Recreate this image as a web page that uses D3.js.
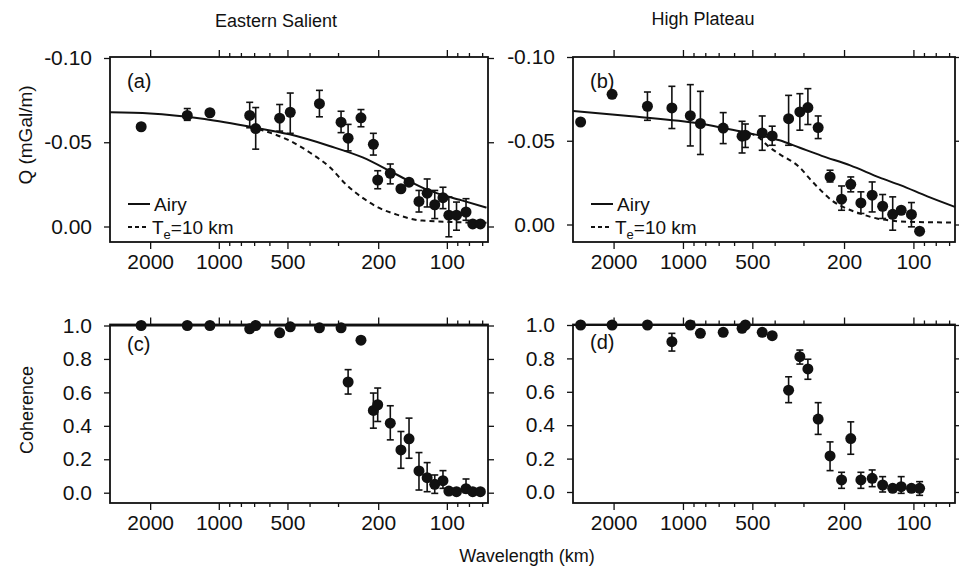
<!DOCTYPE html>
<html>
<head>
<meta charset="utf-8">
<script src="https://cdn.jsdelivr.net/npm/d3@7"></script>
<style>
  body { margin: 0; background: #fff; }
  svg { display: block; }
  text { font-family: "Liberation Sans", Arial, Helvetica, sans-serif; fill: #111; }
</style>
</head>
<body>
<div id="chart"></div>
<script>
// wavelengths (km) of the estimates, one list per region
var wlES = [2190, 1375, 1094, 732, 689, 541, 486, 362, 291, 271, 238, 210, 201, 177, 159, 146.5, 132.5, 122, 113, 104, 98, 90.7, 82.4, 77, 71.3],
    wlHP = [2780, 2030, 1426, 1117, 929, 840, 669, 554, 536, 453, 410, 348, 311, 287, 259, 230, 205, 187, 169, 151, 136, 123, 113, 102, 94];

// admittance Q (mGal/m) with error bars [lo, hi] (null = no bar)
var qES = [-0.0592, -0.0659, -0.0675, -0.0659, -0.0581, -0.0643, -0.0678, -0.0729, -0.0619, -0.0524, -0.0645, -0.0488, -0.0276,
           -0.0316, -0.0224, -0.0263, -0.0149, -0.0198, -0.0129, -0.0171, -0.0067, -0.0067, -0.0086, -0.0015, -0.0015];
var qESErr = [null, [-0.0700, -0.0630], null, [-0.0737, -0.0586], [-0.0706, -0.0459], [-0.0724, -0.0566], [-0.0792, -0.0553],
              [-0.0808, -0.0651], [-0.0684, -0.0557], [-0.0606, -0.0449], [-0.0694, -0.0592], [-0.0553, -0.0424], [-0.0331, -0.0224],
              [-0.0371, -0.0253], null, null, [-0.0214, -0.0086], [-0.0282, -0.0116], [-0.0214, -0.0047], [-0.0233, -0.0106],
              [-0.0175, 0.0061], [-0.0145, 0.0022], [-0.0165, -0.0037], null, null];

var qHP = [-0.0612, -0.0777, -0.0706, -0.0696, -0.0650, -0.0603, -0.0576, -0.0527, -0.0533, -0.0547, -0.0529, -0.0632, -0.0672,
           -0.0698, -0.0579, -0.0284, -0.0151, -0.0240, -0.0129, -0.0175, -0.0109, -0.0061, -0.0085, -0.0060, 0.0040];
var qHPErr = [null, null, [-0.0791, -0.0622], [-0.0825, -0.0573], [-0.0835, -0.0469], [-0.0795, -0.0418], [-0.0668, -0.0483],
              [-0.0616, -0.0427], [-0.0600, -0.0460], [-0.0648, -0.0443], [-0.0587, -0.0473], [-0.0771, -0.0473], [-0.0781, -0.0563],
              [-0.0811, -0.0597], [-0.0648, -0.0513], [-0.0324, -0.0254], [-0.0230, -0.0085], [-0.0284, -0.0195], [-0.0195, -0.0066],
              [-0.0254, -0.0075], [-0.0179, -0.0036], [-0.0165, 0.0034], null, [-0.0131, 0.0014], null];

// coherence
var cohES = [1.0, 1.0, 1.0, 0.98, 1.0, 0.956, 0.992, 0.986, 0.986, 0.662, 0.912, 0.492, 0.526, 0.416, 0.256, 0.322, 0.13,
             0.09, 0.05, 0.072, 0.01, 0.006, 0.024, 0.006, 0.006];
var cohESErr = [null, null, null, null, null, null, null, null, null, [0.59, 0.736], null, [0.386, 0.596], [0.426, 0.626],
                [0.316, 0.52], [0.146, 0.366], [0.206, 0.446], [0.016, 0.24], [0.006, 0.18], [-0.004, 0.106], [0.026, 0.132],
                null, null, [0.0, 0.082], null, null];

var cohHP = [1.0, 1.0, 1.0, 0.90, 1.0, 0.95, 0.956, 0.98, 1.0, 0.956, 0.936, 0.61, 0.81, 0.737, 0.437, 0.216, 0.072, 0.32,
             0.072, 0.082, 0.042, 0.022, 0.032, 0.022, 0.022];
var cohHPErr = [null, null, null, [0.844, 0.95], null, null, null, null, null, null, null, [0.535, 0.69], [0.766, 0.85],
                [0.675, 0.795], [0.345, 0.535], [0.128, 0.30], [0.022, 0.118], [0.226, 0.42], [0.022, 0.118], [0.032, 0.132],
                [0.0, 0.092], null, [-0.008, 0.092], null, [-0.02, 0.062]];

// model curves [wavelength, value]
var airyES = [[3000, -0.0678], [2000, -0.0671], [1200, -0.0641], [730, -0.0592], [490, -0.0547], [327, -0.0478],
              [234, -0.041], [167, -0.031], [120, -0.0214], [86, -0.0155], [67, -0.0112]];
var te10ES = [[730, -0.0592], [640, -0.057], [490, -0.051], [390, -0.043], [325, -0.035], [277, -0.025], [234, -0.017],
              [198, -0.011], [167, -0.0072], [128, -0.0035], [67, -0.0022]];
var airyHP = [[3000, -0.0678], [1670, -0.0646], [850, -0.0603], [540, -0.055], [434, -0.0523], [381, -0.0503],
              [311, -0.0458], [250, -0.041], [188, -0.0353], [140, -0.028], [114, -0.0235], [87, -0.0168], [66, -0.0105]];
var te10HP = [[560, -0.0555], [470, -0.052], [420, -0.046], [381, -0.042], [311, -0.034], [282, -0.0274], [255, -0.021],
              [224, -0.014], [202, -0.0105], [170, -0.0065], [144, -0.0036], [103, -0.0016], [66, -0.0012]];
var cohModel = [[3000, 1], [66, 1]];

// axes
var wlDomain = [3000, 66],
    wlTicks = [2000, 1000, 500, 200, 100],
    wlMinor = [900, 800, 700, 600, 400, 300, 90, 80, 70],
    qTicks = [-0.10, -0.05, 0.00],
    cohTicks = [0, 0.2, 0.4, 0.6, 0.8, 1.0];

var width = 959,
    height = 575,
    font = '"Liberation Sans", Arial, Helvetica, sans-serif';

var svg = d3.select("#chart").append("svg")
    .attr("width", width)
    .attr("height", height);

function zip(wl, vals, errs) {
    return wl.map(function (w, i) {
        return { wl: w, v: vals[i], err: errs[i] };
    });
}

function drawPanel(p) {
    var x = d3.scaleLog().domain(wlDomain).range([p.left, p.right]),
        y = d3.scaleLinear().domain(p.yDomain).range(p.yRange);

    var g = svg.append("g");

    // ticks, all pointing outward
    function styleAxis(sel) {
        sel.select(".domain").remove();
        sel.selectAll("line").attr("stroke", "#111").attr("stroke-width", 1.3);
        sel.selectAll("text").attr("font-family", font).attr("font-size", 21).attr("fill", "#111");
    }

    g.append("g").attr("transform", "translate(0," + p.bottom + ")")
        .call(d3.axisBottom(x).tickValues(wlTicks).tickSize(7).tickPadding(5).tickFormat(d3.format("d")))
        .call(styleAxis);
    g.append("g").attr("transform", "translate(0," + p.bottom + ")")
        .call(d3.axisBottom(x).tickValues(wlMinor).tickSize(4).tickFormat(""))
        .call(styleAxis);
    g.append("g").attr("transform", "translate(0," + p.top + ")")
        .call(d3.axisTop(x).tickValues(wlTicks).tickSize(7).tickFormat(""))
        .call(styleAxis);
    g.append("g").attr("transform", "translate(0," + p.top + ")")
        .call(d3.axisTop(x).tickValues(wlMinor).tickSize(4).tickFormat(""))
        .call(styleAxis);

    g.append("g").attr("transform", "translate(" + p.left + ",0)")
        .call(d3.axisLeft(y).tickValues(p.yTicks).tickSize(6).tickPadding(12).tickFormat(p.fmt))
        .call(styleAxis);
    g.append("g").attr("transform", "translate(" + p.right + ",0)")
        .call(d3.axisRight(y).tickValues(p.yTicks).tickSize(6).tickFormat(""))
        .call(styleAxis);

    // frame
    g.append("rect")
        .attr("x", p.left)
        .attr("y", p.top)
        .attr("width", p.right - p.left)
        .attr("height", p.bottom - p.top)
        .attr("fill", "none")
        .attr("stroke", "#111")
        .attr("stroke-width", 1.8);

    var line = d3.line()
        .x(function (d) { return x(d[0]); })
        .y(function (d) { return y(d[1]); })
        .curve(d3.curveMonotoneX);

    p.curves.forEach(function (c) {
        g.append("path")
            .datum(c.data)
            .attr("d", line)
            .attr("fill", "none")
            .attr("stroke", "#111")
            .attr("stroke-width", 2)
            .attr("stroke-dasharray", c.dash ? "5,4" : null);
    });

    // error bars
    var bars = g.append("g").selectAll("g")
        .data(p.points.filter(function (d) { return d.err; }))
        .enter().append("g");
    bars.append("line")
        .attr("x1", function (d) { return x(d.wl); })
        .attr("x2", function (d) { return x(d.wl); })
        .attr("y1", function (d) { return y(d.err[0]); })
        .attr("y2", function (d) { return y(d.err[1]); })
        .attr("stroke", "#111").attr("stroke-width", 1.6);
    [0, 1].forEach(function (k) {
        bars.append("line")
            .attr("x1", function (d) { return x(d.wl) - 3.5; })
            .attr("x2", function (d) { return x(d.wl) + 3.5; })
            .attr("y1", function (d) { return y(d.err[k]); })
            .attr("y2", function (d) { return y(d.err[k]); })
            .attr("stroke", "#111").attr("stroke-width", 1.6);
    });

    g.append("g").selectAll("circle")
        .data(p.points)
        .enter().append("circle")
        .attr("cx", function (d) { return x(d.wl); })
        .attr("cy", function (d) { return y(d.v); })
        .attr("r", 5.5)
        .attr("fill", "#111");

    g.append("text")
        .attr("x", p.left + 17)
        .attr("y", p.top + p.labelDy)
        .attr("font-size", 20)
        .text(p.label);

    if (p.legend) {
        var lx = p.left + 18;
        g.append("line")
            .attr("x1", lx).attr("x2", lx + 22)
            .attr("y1", 204).attr("y2", 204)
            .attr("stroke", "#111").attr("stroke-width", 2);
        g.append("text")
            .attr("x", lx + 26).attr("y", 211)
            .attr("font-size", 19)
            .text("Airy");
        g.append("line")
            .attr("x1", lx).attr("x2", lx + 20)
            .attr("y1", 227).attr("y2", 227)
            .attr("stroke", "#111").attr("stroke-width", 2)
            .attr("stroke-dasharray", "4,3");
        var t = g.append("text")
            .attr("x", lx + 24).attr("y", 234)
            .attr("font-size", 19);
        t.append("tspan").text("T");
        t.append("tspan").attr("dy", 5).attr("font-size", 13).text("e");
        t.append("tspan").attr("dy", -5).text("=10 km");
    }
}

var qFmt = function (d) { return d.toFixed(2); },
    cFmt = function (d) { return d.toFixed(1); };

var panels = [
    { left: 110, right: 488, top: 57, bottom: 242, yDomain: [-0.1, 0], yRange: [58, 226.5], yTicks: qTicks, fmt: qFmt,
      label: "(a)", labelDy: 31, legend: true, points: zip(wlES, qES, qESErr),
      curves: [{ data: airyES }, { data: te10ES, dash: true }] },
    { left: 573, right: 955, top: 57, bottom: 242, yDomain: [-0.1, 0], yRange: [57, 224.5], yTicks: qTicks, fmt: qFmt,
      label: "(b)", labelDy: 31, legend: true, points: zip(wlHP, qHP, qHPErr),
      curves: [{ data: airyHP }, { data: te10HP, dash: true }] },
    { left: 110, right: 488, top: 324.5, bottom: 503, yDomain: [0, 1], yRange: [492.7, 325.5], yTicks: cohTicks, fmt: cFmt,
      label: "(c)", labelDy: 26, legend: false, points: zip(wlES, cohES, cohESErr),
      curves: [{ data: cohModel }] },
    { left: 573, right: 955, top: 324.5, bottom: 503, yDomain: [0, 1], yRange: [492, 325], yTicks: cohTicks, fmt: cFmt,
      label: "(d)", labelDy: 24, legend: false, points: zip(wlHP, cohHP, cohHPErr),
      curves: [{ data: cohModel }] }
];

panels.forEach(drawPanel);

// titles and axis labels
svg.append("text")
    .attr("x", 276).attr("y", 27)
    .attr("text-anchor", "middle")
    .attr("font-size", 18)
    .text("Eastern Salient");
svg.append("text")
    .attr("x", 703).attr("y", 25)
    .attr("text-anchor", "middle")
    .attr("font-size", 18)
    .text("High Plateau");
svg.append("text")
    .attr("x", 527).attr("y", 562)
    .attr("text-anchor", "middle")
    .attr("font-size", 18)
    .text("Wavelength (km)");
svg.append("text")
    .attr("transform", "translate(32,135) rotate(-90)")
    .attr("text-anchor", "middle")
    .attr("font-size", 19)
    .text("Q (mGal/m)");
svg.append("text")
    .attr("transform", "translate(33,410) rotate(-90)")
    .attr("text-anchor", "middle")
    .attr("font-size", 18)
    .text("Coherence");
</script>
</body>
</html>
